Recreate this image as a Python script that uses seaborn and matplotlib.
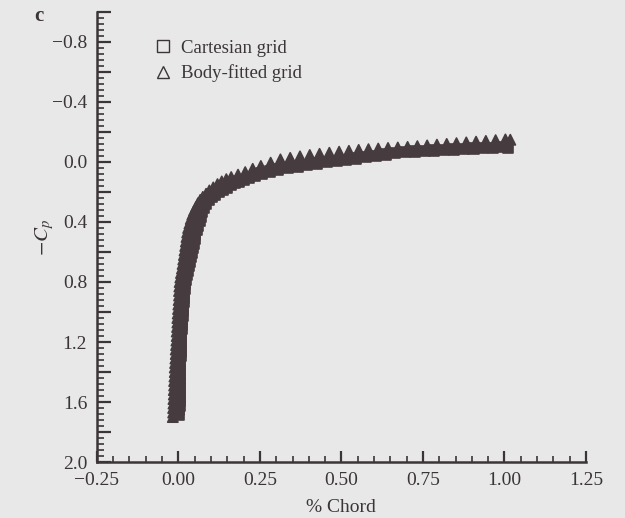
import numpy as np
import pandas as pd
import matplotlib
matplotlib.use("Agg")
import matplotlib.pyplot as plt
from matplotlib.lines import Line2D
from matplotlib.ticker import MultipleLocator, FuncFormatter
import seaborn as sns

# ---------------- data ----------------
series_names = ["Cartesian grid", "Body-fitted grid"]

cart_x = [0.002, 0.002, 0.003, 0.003, 0.003, 0.004, 0.004, 0.005, 0.005, 0.005,
          0.006, 0.006, 0.006, 0.007, 0.007, 0.007, 0.008, 0.008, 0.009, 0.010,
          0.011, 0.012, 0.013, 0.014, 0.015, 0.016, 0.017, 0.018, 0.020, 0.021,
          0.023, 0.026, 0.029, 0.032, 0.035, 0.039, 0.042, 0.045, 0.047, 0.050,
          0.052, 0.056, 0.060, 0.065, 0.069, 0.073, 0.079, 0.085, 0.093, 0.102,
          0.112, 0.123, 0.136, 0.150, 0.160, 0.172, 0.185, 0.200, 0.217, 0.235,
          0.255, 0.280, 0.305, 0.335, 0.365, 0.395, 0.425, 0.455, 0.485, 0.515,
          0.545, 0.575, 0.605, 0.635, 0.665, 0.695, 0.725, 0.755, 0.785, 0.815,
          0.845, 0.875, 0.905, 0.935, 0.965, 0.995, 1.010]
cart_cp = [1.685, 1.655, 1.625, 1.595, 1.565, 1.535, 1.505, 1.475, 1.445, 1.415,
           1.385, 1.355, 1.325, 1.295, 1.265, 1.235, 1.205, 1.175, 1.145, 1.115,
           1.085, 1.055, 1.025, 0.995, 0.965, 0.935, 0.905, 0.875, 0.845, 0.815,
           0.785, 0.755, 0.725, 0.695, 0.665, 0.635, 0.605, 0.575, 0.545, 0.515,
           0.485, 0.455, 0.425, 0.395, 0.365, 0.335, 0.305, 0.278, 0.255, 0.235,
           0.217, 0.200, 0.185, 0.170, 0.155, 0.140, 0.130, 0.118, 0.104, 0.090,
           0.076, 0.063, 0.051, 0.041, 0.031, 0.021, 0.011, 0.002, -0.007, -0.015,
           -0.023, -0.031, -0.041, -0.050, -0.058, -0.065, -0.069, -0.073, -0.077, -0.080,
           -0.083, -0.086, -0.089, -0.092, -0.095, -0.098, -0.092]

tri_x = [-0.017, -0.016, -0.016, -0.015, -0.015, -0.014, -0.014, -0.013, -0.013, -0.012,
         -0.011, -0.011, -0.010, -0.009, -0.008, -0.008, -0.007, -0.006, -0.005, -0.005,
         -0.004, -0.003, -0.003, -0.002, -0.001, 0.000, 0.001, 0.002, 0.002, 0.003,
         0.004, 0.006, 0.008, 0.011, 0.013, 0.015, 0.017, 0.019, 0.021, 0.023,
         0.025, 0.027, 0.030, 0.034, 0.038, 0.043, 0.048, 0.054, 0.060, 0.067,
         0.075, 0.085, 0.095, 0.107, 0.120, 0.133, 0.147, 0.162, 0.183, 0.205,
         0.228, 0.253, 0.283, 0.313, 0.343, 0.373, 0.403, 0.433, 0.463, 0.493,
         0.523, 0.553, 0.583, 0.613, 0.643, 0.673, 0.703, 0.733, 0.763, 0.793,
         0.823, 0.853, 0.883, 0.913, 0.943, 0.973, 1.003, 1.018]
tri_cp = [1.70, 1.67, 1.64, 1.61, 1.58, 1.55, 1.52, 1.49, 1.46, 1.43,
          1.40, 1.37, 1.34, 1.31, 1.28, 1.25, 1.22, 1.19, 1.16, 1.13,
          1.10, 1.07, 1.04, 1.01, 0.98, 0.95, 0.92, 0.89, 0.86, 0.83,
          0.80, 0.77, 0.74, 0.71, 0.68, 0.65, 0.62, 0.59, 0.56, 0.53,
          0.50, 0.47, 0.44, 0.41, 0.38, 0.35, 0.325, 0.30, 0.275, 0.253,
          0.233, 0.212, 0.190, 0.170, 0.148, 0.130, 0.115, 0.101, 0.085, 0.068,
          0.046, 0.027, 0.005, -0.017, -0.027, -0.037, -0.046, -0.054, -0.061, -0.068,
          -0.074, -0.080, -0.085, -0.089, -0.093, -0.096, -0.100, -0.105, -0.110, -0.115,
          -0.120, -0.125, -0.130, -0.135, -0.140, -0.145, -0.150, -0.148]

x_ticks = [-0.25, 0.00, 0.25, 0.50, 0.75, 1.00, 1.25]
y_labeled = [-0.8, -0.4, 0.0, 0.4, 0.8, 1.2, 1.6, 2.0]

# ---------------- style ----------------
bg = "#e8e8e8"
ink = "#3b3537"
mark = "#463c40"

sns.set_theme(style="ticks")
plt.rcParams["font.family"] = ["Liberation Serif", "DejaVu Serif"]
plt.rcParams["mathtext.fontset"] = "stix"
plt.rcParams["text.color"] = ink
plt.rcParams["axes.labelcolor"] = ink
plt.rcParams["xtick.color"] = ink
plt.rcParams["ytick.color"] = ink

df = pd.concat([
    pd.DataFrame({"x": cart_x, "cp": cart_cp, "grid": series_names[0]}),
    pd.DataFrame({"x": tri_x, "cp": tri_cp, "grid": series_names[1]}),
], ignore_index=True)

fig = plt.figure(figsize=(6.25, 5.18), dpi=100, facecolor=bg)
ax = fig.add_axes([0.155, 0.108, 0.7825, 0.869])
ax.set_facecolor(bg)

sns.scatterplot(data=df, x="x", y="cp", style="grid", style_order=series_names,
                markers={series_names[0]: "s", series_names[1]: "^"},
                color=mark, edgecolor=mark, linewidth=1.2, s=55, alpha=1.0,
                legend=False, ax=ax)

ax.set_xlim(-0.25, 1.25)
ax.set_ylim(2.0, -1.0)

for side in ["top", "right"]:
    ax.spines[side].set_visible(False)
for side in ["left", "bottom"]:
    ax.spines[side].set_linewidth(1.8)
    ax.spines[side].set_color(ink)

ax.xaxis.set_major_locator(MultipleLocator(0.25))
ax.xaxis.set_minor_locator(MultipleLocator(0.05))
ax.yaxis.set_major_locator(MultipleLocator(0.2))
ax.yaxis.set_minor_locator(MultipleLocator(0.04))


def yfmt(v, pos):
    for t in y_labeled:
        if abs(v - t) < 1e-6:
            return f"{t:.1f}".replace("-", "\u2212")
    return ""


def xfmt(v, pos):
    for t in x_ticks:
        if abs(v - t) < 1e-6:
            return f"{t:.2f}".replace("-", "\u2212")
    return ""


ax.yaxis.set_major_formatter(FuncFormatter(yfmt))
ax.xaxis.set_major_formatter(FuncFormatter(xfmt))

ax.tick_params(axis="y", which="major", direction="in", length=10, width=1.6, labelsize=14, pad=7)
ax.tick_params(axis="y", which="minor", direction="in", length=5, width=1.2)
ax.tick_params(axis="x", which="major", direction="in", length=8, width=1.6, labelsize=14, pad=7)
ax.tick_params(axis="x", which="minor", direction="in", length=4, width=1.2)

ax.set_xlabel("% Chord", fontsize=14, labelpad=7)
ax.set_ylabel(r"$-C_p$", fontsize=15, labelpad=-3)

handles = [Line2D([], [], linestyle="none", marker="s", markersize=8, markerfacecolor="none",
                  markeredgecolor=ink, markeredgewidth=1.0),
           Line2D([], [], linestyle="none", marker="^", markersize=9, markerfacecolor="none",
                  markeredgecolor=ink, markeredgewidth=1.0)]
ax.legend(handles, series_names, loc="upper left", bbox_to_anchor=(0.10, 0.955),
          frameon=False, fontsize=13.5, handletextpad=0.5, labelspacing=0.4,
          handlelength=1.0, borderaxespad=0)

fig.text(0.055, 0.97, "c", fontsize=15, fontweight="bold", color=ink, ha="left", va="center")

fig.savefig("out.png", dpi=100, facecolor=bg)
